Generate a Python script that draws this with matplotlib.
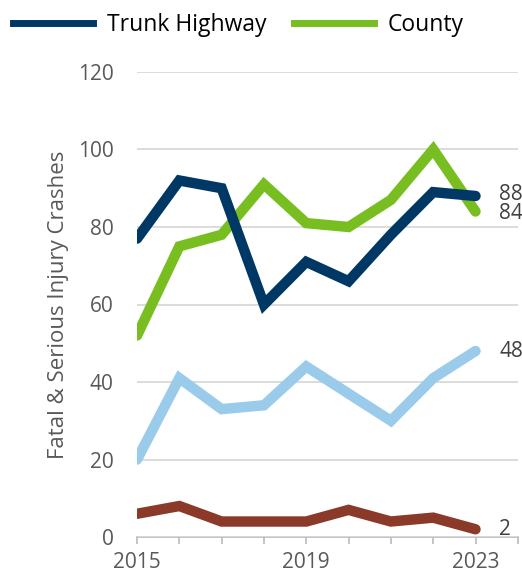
import matplotlib
matplotlib.use("Agg")
import matplotlib.pyplot as plt
from matplotlib.lines import Line2D

years = [2015, 2016, 2017, 2018, 2019, 2020, 2021, 2022, 2023]
trunk_highway = [77, 92, 90, 60, 71, 66, 78, 89, 88]
county = [52, 75, 78, 91, 81, 80, 87, 100, 84]
city = [20, 41, 33, 34, 44, 37, 30, 41, 48]
other = [6, 8, 4, 4, 4, 7, 4, 5, 2]
yticks = [0, 20, 40, 60, 80, 100, 120]
xtick_labels = [2015, 2019, 2023]

plt.rcParams['font.family'] = ['Open Sans', 'DejaVu Sans']

fig = plt.figure(figsize=(5.22, 5.80), dpi=100)
ax = fig.add_axes([0.2625, 0.0741, 0.992 - 0.2625, 0.8759 - 0.0741])

series = [
    (trunk_highway, '#003865'),
    (county, '#78BE21'),
    (city, '#9BCBEB'),
    (other, '#8B3A2A'),
]
for vals, col in series[::-1]:
    ax.plot(years, vals, color=col, lw=7.5, solid_capstyle='round',
            solid_joinstyle='miter', zorder=3)

ax.set_xlim(2015, 2024)
ax.set_ylim(0, 120)
ax.set_yticks(yticks)
ax.set_yticklabels([str(v) for v in yticks])
ax.set_xticks(xtick_labels)
ax.set_xticklabels([str(v) for v in xtick_labels])
ax.set_xticks(list(range(2015, 2025)), minor=True)

ax.grid(axis='y', color='#D9D9D9', lw=1.3, zorder=0)
for s in ['left', 'right', 'top']:
    ax.spines[s].set_visible(False)
ax.spines['bottom'].set_color('#BFBFBF')
ax.spines['bottom'].set_linewidth(1.3)
ax.spines['bottom'].set_zorder(1)

ax.tick_params(axis='y', length=0, pad=17, labelsize=15, labelcolor='#595959')
ax.tick_params(axis='x', which='both', length=5, width=1.3, color='#BFBFBF',
               direction='out', pad=6, labelsize=15, labelcolor='#595959')

ax.set_ylabel('Fatal & Serious Injury Crashes', fontsize=16, color='#595959',
              labelpad=6)

# end labels
label_pos = [(trunk_highway[-1], 0.3), (county[-1], -0.6), (city[-1], 0), (other[-1], 0)]
for v, off in label_pos:
    ax.annotate(str(v), xy=(years[-1], v + off), xytext=(17, 0),
                textcoords='offset points', va='center', ha='left',
                fontsize=15, color='#404040', annotation_clip=False)

handles = [Line2D([0], [0], color='#003865', lw=5),
           Line2D([0], [0], color='#78BE21', lw=5)]
fig.legend(handles, ['Trunk Highway', 'County'], loc='upper left',
           bbox_to_anchor=(0.0, 1.0), ncol=2, frameon=False, fontsize=16.5,
           handlelength=3.5, handletextpad=0.6, columnspacing=1.2,
           borderaxespad=0.15)

fig.savefig('out.png', dpi=100)
